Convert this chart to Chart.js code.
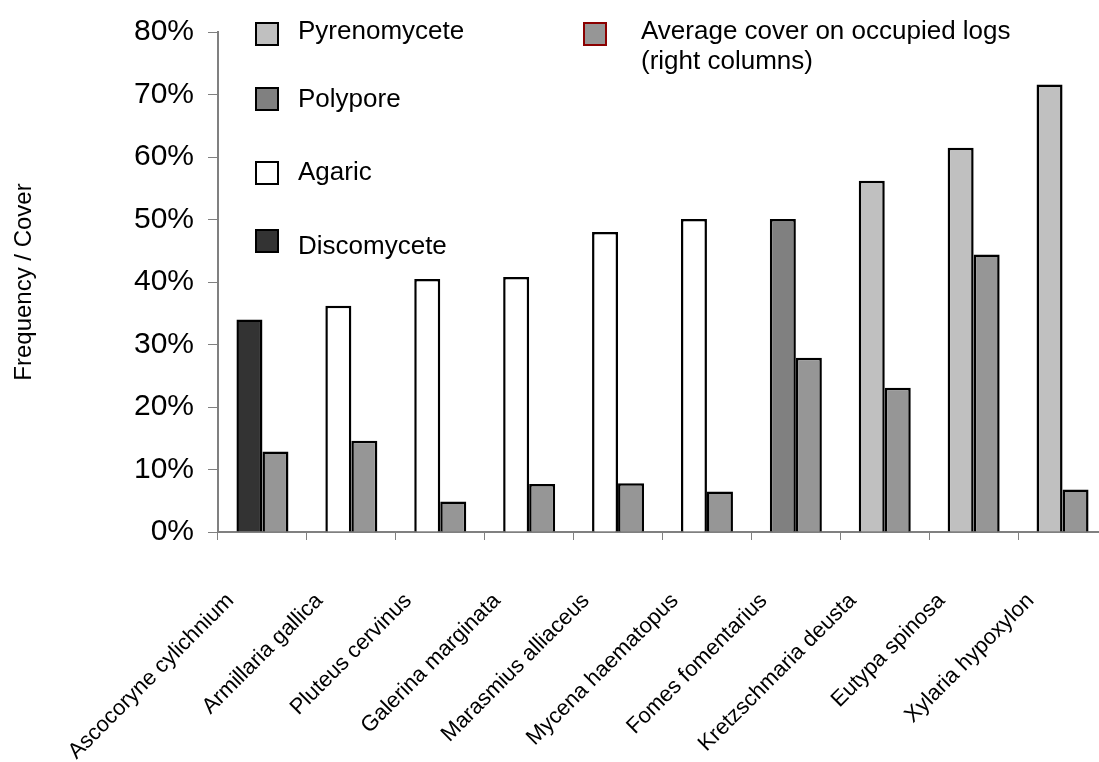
<!DOCTYPE html>
<html lang="en">
<head>
  <meta charset="UTF-8">
  <title>Wood fungi: frequency and cover on logs</title>
  <script src="https://cdn.jsdelivr.net/npm/chart.js"></script>
  <style>
    html, body {
      margin: 0;
      padding: 0;
      background: #fff;
      overflow: hidden;
    }
    .wrap {
      position: relative;
      width: 1107px;
      height: 762px;
    }
    .legend-item {
      position: absolute;
      left: 0;
      top: 0;
      font-family: 'Liberation Sans', Arial, sans-serif;
      font-size: 26px;
      line-height: 30px;
      color: #000;
      white-space: nowrap;
    }
    .swatch {
      position: absolute;
      width: 20px;
      height: 20px;
      border: 2px solid #000;
    }
    .legend-text {
      position: absolute;
    }
  </style>
</head>
<body>
  <div class="wrap">
    <canvas id="chart" width="1107" height="762"></canvas>
    <div id="legend"></div>
  </div>

  <script>
    // species on the x axis
    const species = [
      'Ascocoryne cylichnium', 'Armillaria gallica', 'Pluteus cervinus',
      'Galerina marginata', 'Marasmius alliaceus', 'Mycena haematopus',
      'Fomes fomentarius', 'Kretzschmaria deusta', 'Eutypa spinosa', 'Xylaria hypoxylon'
    ];
    // fungal group of each species (colours the left column)
    const speciesType = [
      'Discomycete', 'Agaric', 'Agaric', 'Agaric', 'Agaric', 'Agaric',
      'Polypore', 'Pyrenomycete', 'Pyrenomycete', 'Pyrenomycete'
    ];
    // left columns: frequency (%)
    const frequency = [34.0, 36.2, 40.5, 40.8, 48.0, 50.1, 50.1, 56.2, 61.5, 71.6];
    // right columns: average cover on occupied logs (%)
    const cover = [12.9, 14.6, 4.9, 7.7, 7.8, 6.5, 27.9, 23.1, 44.4, 6.8];

    const yMin = 0, yMax = 80, yStep = 10;

    const typeColors = {
      Pyrenomycete: '#c0c0c0',
      Polypore: '#808080',
      Agaric: '#ffffff',
      Discomycete: '#333333'
    };
    const coverColor = '#969696';
    const coverLabel = ['Average cover on occupied logs', '(right columns)'];

    const font = "'Liberation Sans', Arial, sans-serif";

    // legend (html, sits inside the plot area)
    const legendItems = [
      { name: 'Pyrenomycete', top: 22, textTop: 15 },
      { name: 'Polypore', top: 87, textTop: 83 },
      { name: 'Agaric', top: 161, textTop: 156 },
      { name: 'Discomycete', top: 229, textTop: 230 }
    ];
    const legendBox = document.getElementById('legend');
    legendItems.forEach(it => {
      const d = document.createElement('div');
      d.className = 'legend-item';
      d.innerHTML = '<div class="swatch" style="left:255px;top:' + it.top +
        'px;background:' + typeColors[it.name] + '"></div>' +
        '<div class="legend-text" style="left:298px;top:' + it.textTop + 'px">' + it.name + '</div>';
      legendBox.appendChild(d);
    });
    const cov = document.createElement('div');
    cov.className = 'legend-item';
    cov.innerHTML = '<div class="swatch" style="left:583px;top:22px;background:' + coverColor +
      ';border-color:#8b0000"></div>' +
      '<div class="legend-text" style="left:641px;top:15px">' + coverLabel.join('<br>') + '</div>';
    legendBox.appendChild(cov);

    const ctx = document.getElementById('chart').getContext('2d');
    new Chart(ctx, {
      type: 'bar',
      data: {
        labels: species,
        datasets: [{
          label: 'Frequency',
          data: frequency,
          backgroundColor: speciesType.map(t => typeColors[t]),
          borderColor: '#000',
          borderWidth: 2.5
        }, {
          label: coverLabel.join(' '),
          data: cover,
          backgroundColor: coverColor,
          borderColor: '#000',
          borderWidth: 2.5
        }]
      },
      options: {
        responsive: false,
        animation: false,
        layout: { padding: { top: 21, left: 0, right: 0, bottom: 0 } },
        datasets: { bar: { barPercentage: 1, categoryPercentage: 0.585 } },
        plugins: {
          legend: { display: false },
          tooltip: { enabled: false }
        },
        scales: {
          x: {
            grid: { offset: true, drawOnChartArea: false, tickLength: 8, color: '#808080' },
            border: { color: '#808080', width: 2 },
            ticks: {
              minRotation: 45,
              maxRotation: 45,
              color: '#000',
              padding: 48,
              labelOffset: -32,
              font: { family: font, size: 22 }
            },
            afterFit(scale) {
              scale.height = 230;
              // the plot runs to the right edge, as in the original
              scale.paddingLeft = 0;
              scale.paddingRight = 0;
            }
          },
          y: {
            min: yMin,
            max: yMax,
            grid: { drawOnChartArea: false, tickLength: 10, color: '#808080' },
            border: { color: '#808080', width: 2 },
            ticks: {
              stepSize: yStep,
              color: '#000',
              padding: 14,
              font: { family: font, size: 30 },
              callback: v => v + '%'
            },
            title: {
              display: true,
              text: 'Frequency / Cover',
              color: '#000',
              padding: { top: 10, bottom: 4 },
              font: { family: font, size: 24 }
            },
            afterFit(scale) { scale.width = 218; }
          }
        }
      }
    });
  </script>
</body>
</html>
